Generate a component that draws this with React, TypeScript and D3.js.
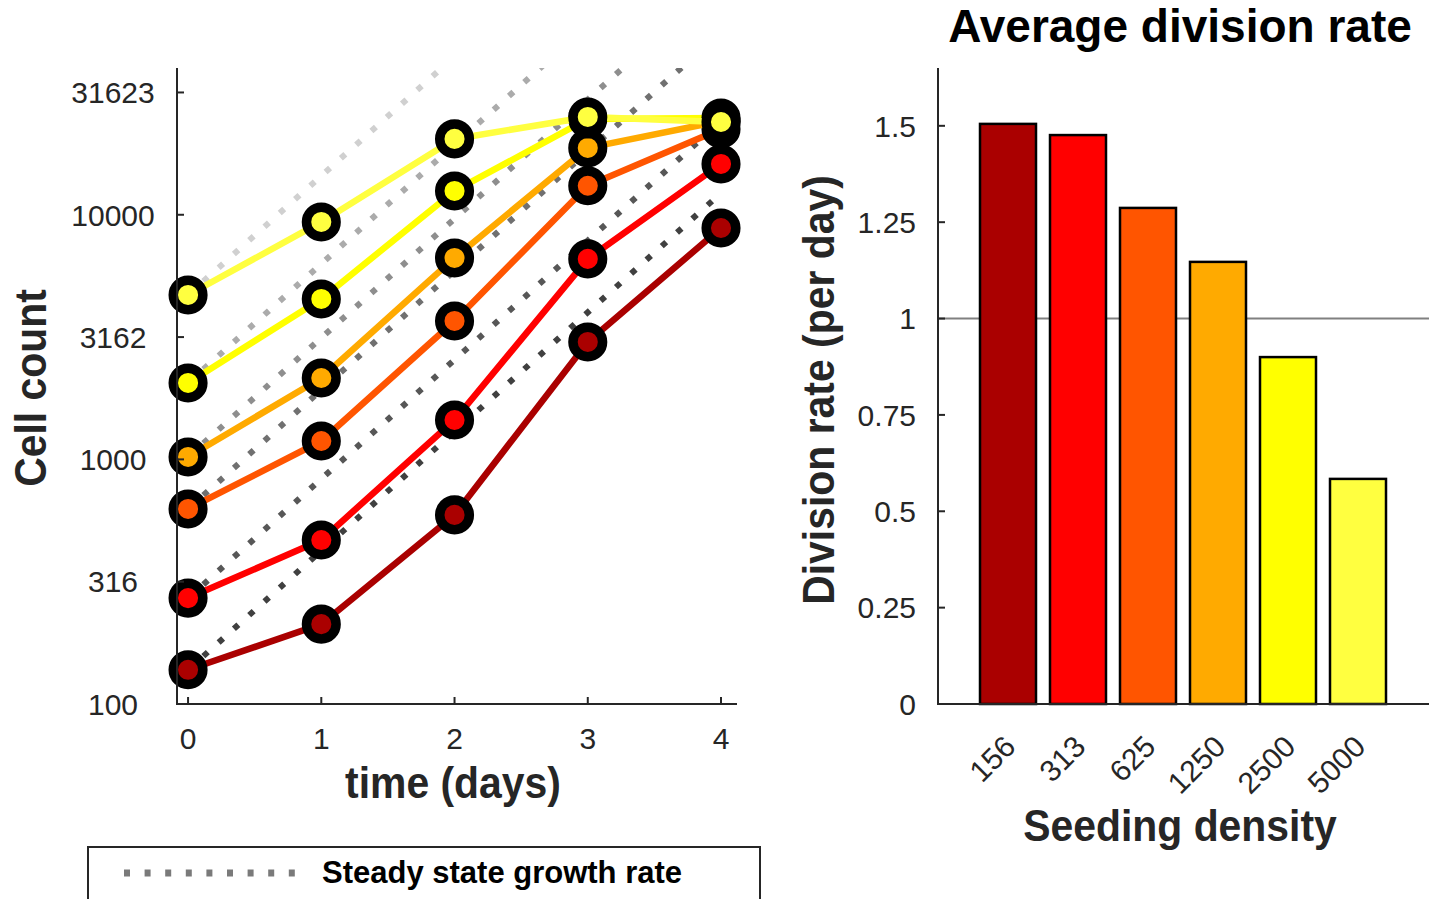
import React from 'react'
import * as d3 from 'd3'

// growth curves, one array per seeding density (cells, days 0..4)
const days = [0, 1, 2, 3, 4]
const seedingDensities = ['156', '313', '625', '1250', '2500', '5000']
const seriesColors = ['#aa0000', '#ff0000', '#ff5500', '#ffaa00', '#ffff00', '#ffff40']
const steadyGreys = ['#404040', '#575757', '#707070', '#8e8e8e', '#ababab', '#d0d0d0']

const counts156 = [138, 212, 593, 3020, 8830]
const counts313 = [271, 468, 1449, 6600, 16130]
const counts625 = [627, 1189, 3680, 13140, 22430]
const counts1250 = [1023, 2151, 6660, 18760, 24180]
const counts2500 = [2053, 4527, 12510, 24640, 24870]
const counts5000 = [4700, 9346, 20420, 25110, 23950]

const steadyStateFoldPerDay = 3.07

const cellTicks = [100, 316.23, 1000, 3162.3, 10000, 31623]
const cellTickLabels = ['100', '316', '1000', '3162', '10000', '31623']

// bar chart
const divisionRates = [1.505, 1.476, 1.287, 1.147, 0.9, 0.584]
const rateTicks = [0, 0.25, 0.5, 0.75, 1, 1.25, 1.5]
const rateTickLabels = ['0', '0.25', '0.5', '0.75', '1', '1.25', '1.5']

const FONT = '"Liberation Sans", Arial, Helvetica, sans-serif'
const AXIS = '#262626'

function Label({ x, y, rotate = 0, sx = 1, size, weight = 'normal', anchor = 'middle', fill = AXIS, children }: any) {
    return (
        <g transform={`translate(${x},${y}) rotate(${rotate}) scale(${sx},1)`}>
            <text textAnchor={anchor} fontSize={size} fontWeight={weight} fill={fill} fontFamily={FONT}>{children}</text>
        </g>
    )
}

const App = () => {
    const allCounts = [counts156, counts313, counts625, counts1250, counts2500, counts5000]

    // left panel scales
    const x = d3.scaleLinear().domain([-0.083, 4.12]).range([177, 737])
    const y = d3.scaleLog().domain([100, 39810]).range([704, 68])
    const line = d3.line<number>().x((d, i) => x(days[i])).y(d => y(d))
    const steady = d3.line<[number, number]>().x(d => x(d[0])).y(d => y(d[1]))

    // right panel scales
    const xb = d3.scaleBand().domain(seedingDensities).range([938, 1428]).paddingInner(0.2).paddingOuter(0.6)
    const yb = d3.scaleLinear().domain([0, 1.65]).range([704, 68])

    return (
        <svg width={1429} height={899} style={{ position: 'absolute', left: 0, top: 0, background: '#fff' }}>
            <defs>
                <clipPath id="growthClip">
                    <rect x={177} y={68} width={560} height={636} />
                </clipPath>
            </defs>
            <rect width={1429} height={899} fill="#fff" />

            {/* steady state lines */}
            <g clipPath="url(#growthClip)">
                {allCounts.map((c, i) => (
                    <path key={'ss' + i}
                        d={steady([[0, c[0]], [4, c[0] * Math.pow(steadyStateFoldPerDay, 4)]]) as string}
                        fill="none" stroke={steadyGreys[i]} strokeWidth={6} strokeDasharray="6 14.5" />
                ))}
            </g>

            {/* growth curves */}
            {allCounts.map((c, i) => (
                <g key={'s' + i}>
                    <path d={line(c) as string} fill="none" stroke={seriesColors[i]} strokeWidth={6.5} strokeLinejoin="round" />
                    {c.map((v, j) => (
                        <circle key={j} cx={x(days[j])} cy={y(v)} r={14.8} fill={seriesColors[i]} stroke="#000" strokeWidth={9.5} />
                    ))}
                </g>
            ))}

            {/* left axes */}
            <path d={`M177,68V${y(100)}H737`} fill="none" stroke={AXIS} strokeWidth={2} />
            {cellTicks.map((t, i) => (
                <g key={'yt' + i}>
                    <line x1={177} x2={184} y1={y(t)} y2={y(t)} stroke={AXIS} strokeWidth={2} />
                    <text x={113} y={y(t)} dy="0.36em" textAnchor="middle" fontSize={30} fill={AXIS} fontFamily={FONT}>{cellTickLabels[i]}</text>
                </g>
            ))}
            {days.map(d => (
                <g key={'xt' + d}>
                    <line x1={x(d)} x2={x(d)} y1={704} y2={697} stroke={AXIS} strokeWidth={2} />
                    <text x={x(d)} y={749} textAnchor="middle" fontSize={30} fill={AXIS} fontFamily={FONT}>{d}</text>
                </g>
            ))}
            <Label x={453} y={798} size={44} sx={0.93} weight="bold">time (days)</Label>
            <Label x={46} y={388} rotate={-90} size={44} sx={0.93} weight="bold">Cell count</Label>

            {/* legend */}
            <rect x={88} y={847} width={672} height={80} fill="#fff" stroke={AXIS} strokeWidth={2} />
            <line x1={124} x2={300} y1={873} y2={873} stroke="#7a7a7a" strokeWidth={7} strokeDasharray="6 14.6" />
            <text x={322} y={883} fontSize={31} fontWeight="bold" fill="#000" fontFamily={FONT}>Steady state growth rate</text>

            {/* right panel */}
            <line x1={938} x2={1429} y1={yb(1)} y2={yb(1)} stroke="#808080" strokeWidth={2} />
            {seedingDensities.map((s, i) => (
                <rect key={'b' + s} x={xb(s)} y={yb(divisionRates[i])} width={xb.bandwidth()}
                    height={yb(0) - yb(divisionRates[i])} fill={seriesColors[i]} stroke="#000" strokeWidth={2.5} />
            ))}
            <path d={`M938,68V${yb(0)}H1429`} fill="none" stroke={AXIS} strokeWidth={2} />
            {rateTicks.map((t, i) => (
                <g key={'rt' + i}>
                    <line x1={938} x2={945} y1={yb(t)} y2={yb(t)} stroke={AXIS} strokeWidth={2} />
                    <text x={916} y={yb(t)} dy="0.36em" textAnchor="end" fontSize={30} fill={AXIS} fontFamily={FONT}>{rateTickLabels[i]}</text>
                </g>
            ))}
            {seedingDensities.map(s => {
                const cx = (xb(s) as number) + xb.bandwidth() / 2
                return (
                    <text key={'bl' + s} transform={`translate(${cx + 2},741) rotate(-45)`} textAnchor="end"
                        dominantBaseline="central" fontSize={30} fill={AXIS} fontFamily={FONT}>{s}</text>
                )
            })}
            <Label x={1180} y={841} size={44} sx={0.93} weight="bold">Seeding density</Label>
            <Label x={834} y={390} rotate={-90} size={44} sx={0.93} weight="bold">Division rate (per day)</Label>
            <Label x={1180} y={42} size={46} sx={1} weight="bold" fill="#000">Average division rate</Label>
        </svg>
    )
}

export default App
